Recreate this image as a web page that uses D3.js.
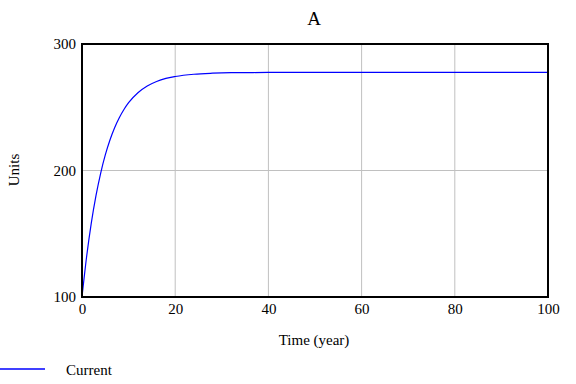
<!DOCTYPE html>
<html>
<head>
<meta charset="utf-8">
<script src="https://cdn.jsdelivr.net/npm/d3@7"></script>
<style>
html,body{margin:0;padding:0;background:#fff;}
svg{display:block;}
svg text{font-family:"Liberation Serif","Times New Roman",serif !important;fill:#000;}
</style>
</head>
<body>
<script>
const title = "A";
const xLabel = "Time (year)";
const yLabel = "Units";
const seriesName = "Current";
const xTicks = [0, 20, 40, 60, 80, 100];
const yTicks = [100, 200, 300];
const times = [0,1,2,3,4,5,6,7,8,9,10,12,14,16,18,20,24,28,32,40,50,60,70,80,90,100];
const values = [100,132.2,158.6,180.1,197.8,212.3,224.1,233.8,241.7,248.2,253.6,261.5,266.8,270.4,272.8,274.3,276.1,276.9,277.3,277.5,277.6,277.6,277.6,277.6,277.6,277.6];

const W = 576, H = 384;
const m = {left: 82, right: 28, top: 44, bottom: 87};
const FONT = "Liberation Serif";
const svg = d3.select("body").append("svg").attr("width", W).attr("height", H);

const x = d3.scaleLinear().domain([0, 100]).range([m.left, W - m.right]);
const y = d3.scaleLinear().domain([100, 300]).range([H - m.bottom, m.top]);

// grid
svg.append("g").selectAll("line").data(xTicks.slice(1, -1)).join("line")
  .attr("x1", d => x(d)).attr("x2", d => x(d))
  .attr("y1", y(100)).attr("y2", y(300))
  .attr("stroke", "#c0c0c0").attr("stroke-width", 1);
svg.append("g").selectAll("line").data(yTicks.slice(1, -1)).join("line")
  .attr("x1", x(0)).attr("x2", x(100))
  .attr("y1", d => y(d)).attr("y2", d => y(d))
  .attr("stroke", "#c0c0c0").attr("stroke-width", 1);

// series
const data = times.map((t, i) => ({t, v: values[i]}));
svg.append("path").datum(data)
  .attr("fill", "none").attr("stroke", "#0000ff").attr("stroke-width", 1.2)
  .attr("d", d3.line().x(d => x(d.t)).y(d => y(d.v)).curve(d3.curveMonotoneX));

// frame
svg.append("rect")
  .attr("x", x(0)).attr("y", y(300))
  .attr("width", x(100) - x(0)).attr("height", y(100) - y(300))
  .attr("fill", "none").attr("stroke", "#000").attr("stroke-width", 2);

// axes labels via d3 axes (no lines)
const xAxis = svg.append("g").attr("transform", `translate(0,${y(100)})`)
  .call(d3.axisBottom(x).tickValues(xTicks).tickSize(0).tickPadding(6).tickFormat(d3.format("d")));
xAxis.attr("font-family", FONT).attr("font-size", 15);
xAxis.select(".domain").remove();
xAxis.selectAll("text").style("font-family", FONT).style("font-size", "15px");

const yAxis = svg.append("g").attr("transform", `translate(${x(0)},0)`)
  .call(d3.axisLeft(y).tickValues(yTicks).tickSize(0).tickPadding(6).tickFormat(d3.format("d")));
yAxis.attr("font-family", FONT).attr("font-size", 15);
yAxis.select(".domain").remove();
yAxis.selectAll("text").style("font-family", FONT).style("font-size", "15px");

// title
svg.append("text").attr("x", 314).attr("y", 25).attr("text-anchor", "middle")
  .style("font-size", "19px").text(title);

// x label
svg.append("text").attr("x", 314).attr("y", 345).attr("text-anchor", "middle")
  .style("font-size", "15px").text(xLabel);

// y label
svg.append("text").attr("transform", `translate(19,170) rotate(-90)`)
  .attr("text-anchor", "middle").style("font-size", "15px").text(yLabel);

// legend
svg.append("line").attr("x1", 0).attr("x2", 45).attr("y1", 369).attr("y2", 369)
  .attr("stroke", "#0000ff").attr("stroke-width", 1.5);
svg.append("text").attr("x", 66).attr("y", 375).style("font-size", "15px").text(seriesName);
</script>
</body>
</html>
